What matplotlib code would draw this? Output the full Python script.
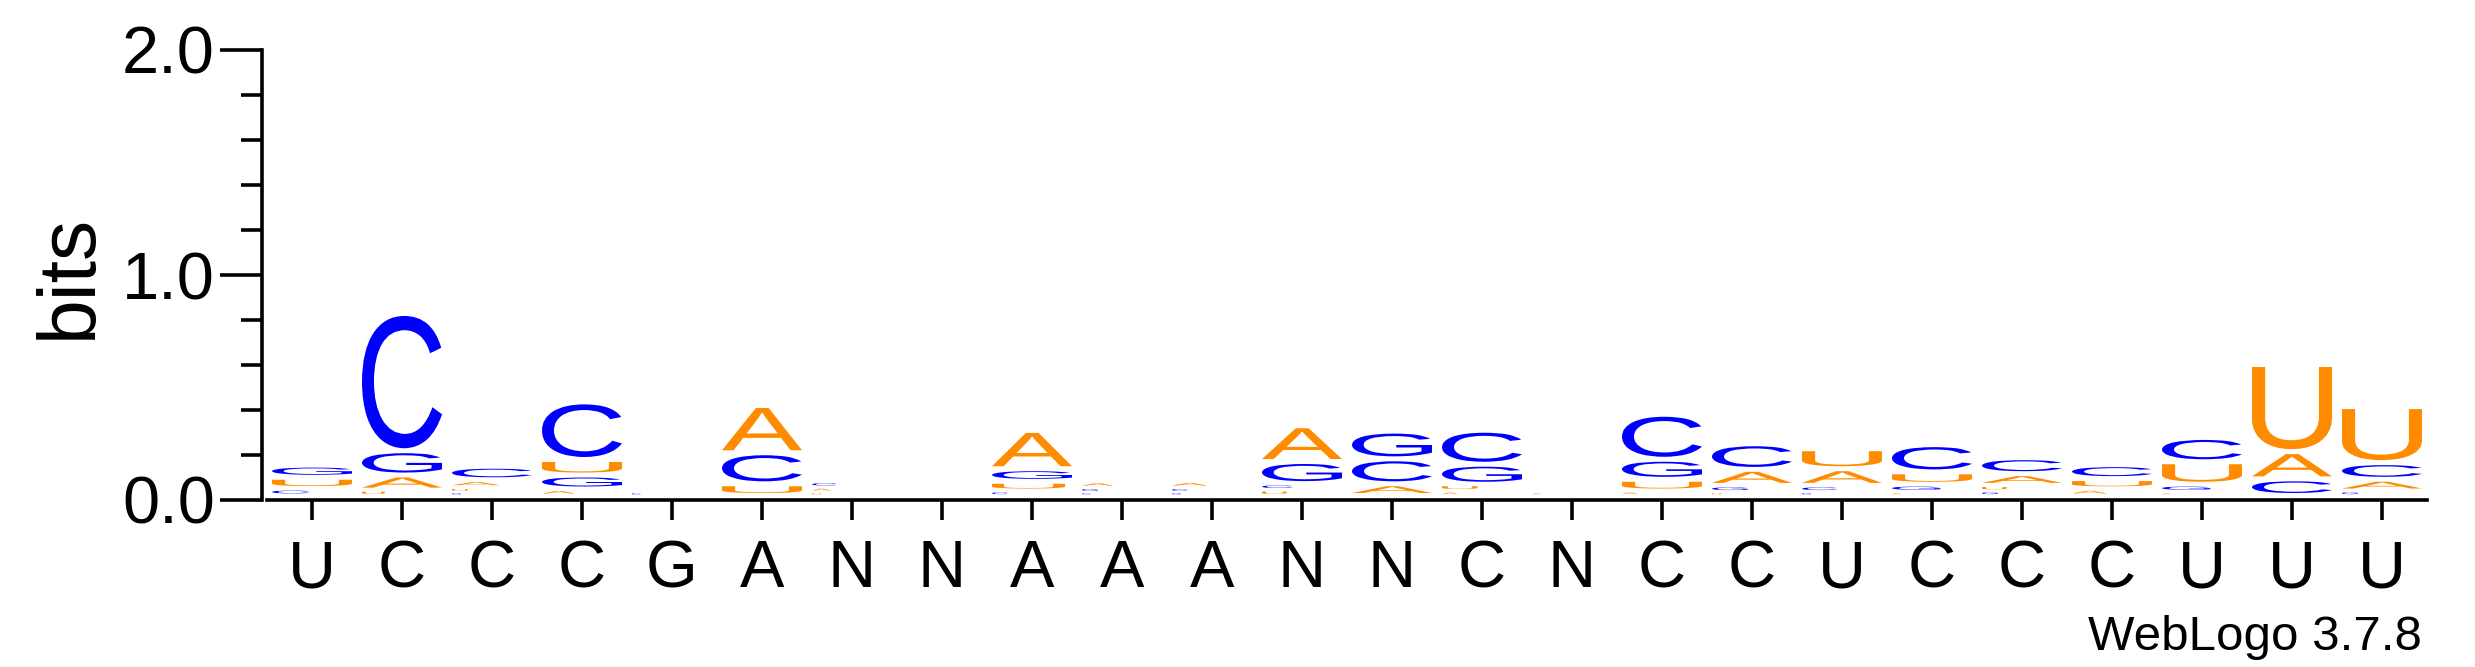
import matplotlib
matplotlib.use('Agg')
import matplotlib.pyplot as plt
from matplotlib.textpath import TextPath
from matplotlib.patches import PathPatch
from matplotlib.font_manager import FontProperties
from matplotlib.transforms import Affine2D
from matplotlib.ticker import MultipleLocator

plt.rcParams['font.family'] = ['Liberation Sans', 'DejaVu Sans']

# ---- data ----
positions = list(range(1, 25))
position_labels = ['U', 'C', 'C', 'C', 'G', 'A', 'N', 'N', 'A', 'A', 'A', 'N',
                   'N', 'C', 'N', 'C', 'C', 'U', 'C', 'C', 'C', 'U', 'U', 'U']
bits_A = [0, .067, .035, .029, 0, .210, .022, 0, .170, .028, .030, .159,
          .052, .020, .015, .020, .071, .074, .015, .052, .030, .015, .121, .052]
bits_C = [.031, .610, .060, .256, .015, .138, .025, 0, .020, .015, .020, .028,
          .111, .151, 0, .200, .114, .030, .121, .071, .062, .108, .074, .074]
bits_G = [.054, .108, .015, .062, 0, 0, 0, 0, .056, .020, .015, .098,
          .123, .089, 0, .089, .030, .015, .035, .020, 0, .035, 0, .020]
bits_U = [.050, .024, .020, .069, 0, .052, .015, 0, .043, 0, 0, .025,
          0, .030, 0, .052, .015, .089, .055, .025, .045, .100, .387, .249]
y_ticks = [0.0, 1.0, 2.0]
y_tick_labels = ['0.0', '1.0', '2.0']

colors = {'A': '#FF8C00', 'U': '#FF8C00', 'C': '#0000FF', 'G': '#0000FF'}

# ---- figure ----
W, H = 2475, 667
fig = plt.figure(figsize=(W / 100, H / 100), dpi=100)
ax = fig.add_axes([267 / W, 167 / H, 2160 / W, 450 / H])
ax.set_xlim(0.5, 24.5)
ax.set_ylim(0, 2)

fp = FontProperties(family='Liberation Sans')
glyphs = {}
for ch in 'ACGU':
    tp = TextPath((0, 0), ch, size=1, prop=fp)
    glyphs[ch] = (tp, tp.get_extents())

letter_w = 80 / 90
base = 0.02
for i, pos in enumerate(positions):
    col = [('A', bits_A[i]), ('C', bits_C[i]), ('G', bits_G[i]), ('U', bits_U[i])]
    col = [c for c in col if c[1] > 0]
    col.sort(key=lambda c: c[1])
    y = base
    for ch, h in col:
        pad = min(0.011, h * 0.3)
        gh = max(h - 2 * pad, 0.002)
        wf = min(1.0, (h / 0.045) ** 2)   # very small symbols render narrow
        lw_ = letter_w * wf
        tp, ext = glyphs[ch]
        tr = (Affine2D().translate(-ext.x0, -ext.y0)
              .scale(lw_ / ext.width, gh / ext.height)
              .translate(pos - letter_w / 2, y + pad))
        path = tr.transform_path(tp)
        ax.add_patch(PathPatch(path, facecolor=colors[ch], edgecolor='none', lw=0))
        y += h

for s in ['top', 'right']:
    ax.spines[s].set_visible(False)
ax.spines['left'].set_position(('outward', 3.6))
ax.spines['left'].set_linewidth(2.6)
ax.spines['bottom'].set_linewidth(2.6)

ax.set_yticks(y_ticks)
ax.set_yticklabels(y_tick_labels)
ax.yaxis.set_minor_locator(MultipleLocator(0.2))
ax.tick_params(axis='y', which='major', length=30, width=2.6, labelsize=48, pad=4)
ax.tick_params(axis='y', which='minor', length=15, width=2.6)
ax.set_xticks(positions)
ax.set_xticklabels(position_labels)
ax.tick_params(axis='x', which='major', length=14.4, width=2.6, labelsize=48, pad=14)
ax.tick_params(axis='x', which='minor', bottom=False)

fig.text(70 / W, 1 - 276 / H, 'bits', rotation=90, ha='center', va='center', fontsize=58)
fig.text(2422 / W, 1 - 650 / H, 'WebLogo 3.7.8', ha='right', va='baseline', fontsize=35.5)

fig.savefig('out.png', dpi=100)
